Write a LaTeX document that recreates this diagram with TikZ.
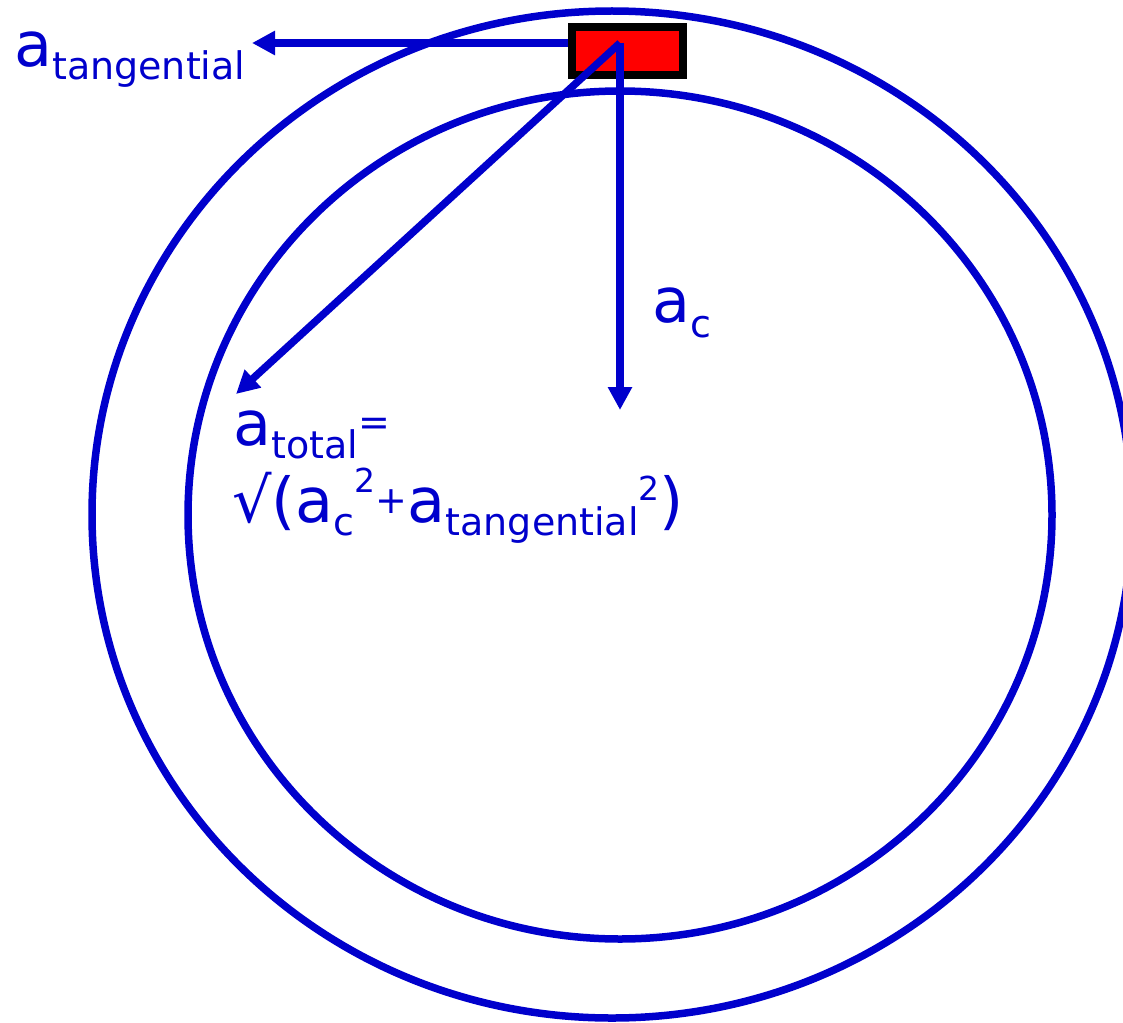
\documentclass[tikz,border=0pt]{standalone}
\usepackage{fontspec}
\setmainfont{DejaVu Sans}
\usetikzlibrary{arrows.meta}
\definecolor{ablue}{RGB}{0,0,204}
\newcommand\mainsz{\fontsize{62}{64}\selectfont}
\newcommand\subsz{\fontsize{38}{40}\selectfont}
\newcommand\supsz{\fontsize{33}{36}\selectfont}
\begin{document}
\begin{tikzpicture}[x=1pt,y=-1pt,
  ring/.style={draw=ablue, line width=7.5pt},
  vec/.style={draw=ablue, line width=7.5pt, -{Triangle[length=23pt,width=23pt]}},
  lbl/.style={text=ablue, inner sep=0pt, anchor=base west}]
\useasboundingbox (0,0) rectangle (1123,1022);
\draw[ring] (612,514.5) ellipse [x radius=520pt, y radius=503.5pt];
\draw[ring] (620,515) ellipse [x radius=432pt, y radius=424pt];
\coordinate (src) at (620,43);
\coordinate (tipT) at (252,43);
\coordinate (tipD) at (236,394);
\coordinate (tipC) at (620,410);
\draw[vec] (src) -- (tipT);
\node[draw=black, fill=red, line width=8pt, minimum width=111pt, minimum height=48pt, inner sep=0pt] (block) at (627.5,51) {};
\draw[vec] (src) -- (tipD);
\draw[vec] (src) -- (tipC);
\node[lbl] (lt) at (14,67) {\mainsz a\raisebox{-13pt}{\subsz tangential}};
\node[lbl] (lc) at (652,322) {\mainsz a\raisebox{-15pt}{\subsz c}};
\node[lbl] (ltot) at (233,445) {\mainsz a\raisebox{-13pt}{\subsz total}\raisebox{10pt}{\subsz =}};
\node[lbl] (lform) at (232,522) {\mainsz √(a\raisebox{-13pt}{\subsz c}\raisebox{30pt}{\supsz 2}\raisebox{9pt}{\subsz +}a\raisebox{-13pt}{\subsz tangential}\raisebox{22pt}{\supsz 2})};
\end{tikzpicture}
\end{document}
